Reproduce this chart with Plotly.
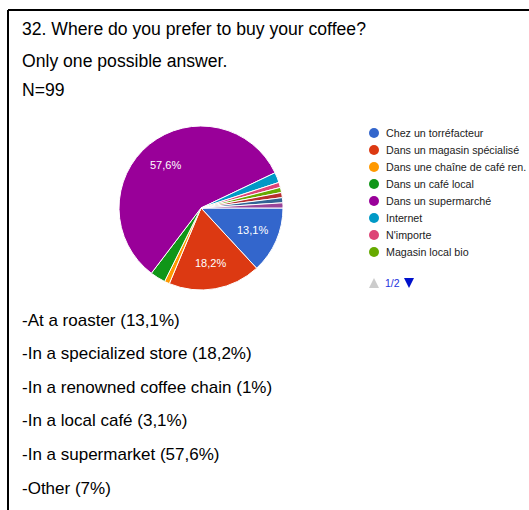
import math
import plotly.graph_objects as go

# Survey question 32: preferred place to buy coffee (N=99 respondents)
labels = [
    "Chez un torréfacteur",
    "Dans un magasin spécialisé",
    "Dans une chaîne de café ren.",
    "Dans un café local",
    "Dans un supermarché",
    "Internet",
    "N'importe",
    "Magasin local bio",
    "Autre 1",
    "Autre 2",
    "Autre 3",
]
counts = [13, 18, 1, 3, 57, 2, 1, 1, 1, 1, 1]
colors = [
    "#3366cc", "#dc3912", "#ff9900", "#109618", "#990099", "#0099c6",
    "#dd4477", "#66aa00", "#b82e2e", "#316395", "#994499",
]
legend_visible = 8  # first page of the legend

question = "32. Where do you prefer to buy your coffee?"
subtitle = "Only one possible answer."
sample = "N=99"
summary_lines = [
    "-At a roaster (13,1%)",
    "-In a specialized store (18,2%)",
    "-In a renowned coffee chain (1%)",
    "-In a local café (3,1%)",
    "-In a supermarket (57,6%)",
    "-Other (7%)",
]

W, H = 529, 510


def px(x):
    return x / W


def py(y):
    return 1 - y / H


# pie geometry in pixels
cx, cy, radius = 201, 208, 82
label_r = 0.68 * radius

fig = go.Figure(
    go.Pie(
        labels=labels,
        values=counts,
        sort=False,
        direction="clockwise",
        rotation=90,
        marker=dict(colors=colors, line=dict(color="white", width=1)),
        textinfo="none",
        domain=dict(x=[px(cx - radius), px(cx + radius)],
                    y=[py(cy + radius), py(cy - radius)]),
        showlegend=False,
        hoverinfo="label+percent",
    )
)

annotations = []
shapes = []

# percentage labels on the large slices, placed along each slice's mid-angle
total = sum(counts)
start = 0.0
for c in counts:
    share = c / total
    if share >= 0.1:
        mid = (start + share / 2) * 2 * math.pi  # clockwise from 3 o'clock
        lx = cx + label_r * math.cos(mid)
        ly = cy + label_r * math.sin(mid)
        pct = f"{share * 100:.1f}".replace(".", ",") + "%"
        annotations.append(dict(text=pct, x=px(lx), y=py(ly), xref="paper", yref="paper",
                                xanchor="center", yanchor="middle", showarrow=False,
                                font=dict(family="Arial, Liberation Sans", size=11,
                                          color="white")))
    start += share

# frame lines (top and left)
shapes.append(dict(type="line", xref="paper", yref="paper",
                   x0=px(8), x1=1, y0=py(10), y1=py(10),
                   line=dict(color="black", width=2)))
shapes.append(dict(type="line", xref="paper", yref="paper",
                   x0=px(8), x1=px(8), y0=py(10), y1=0,
                   line=dict(color="black", width=2)))

header_font = dict(family="Arial, Liberation Sans", size=17.6, color="#000000")
body_font = dict(family="Arial, Liberation Sans", size=17, color="#000000")

header_rows = [(question, 29), (subtitle, 61), (sample, 90)]
for txt, yc in header_rows:
    annotations.append(dict(text=txt, x=px(20), y=py(yc), xref="paper", yref="paper",
                            xanchor="left", yanchor="middle", showarrow=False,
                            font=header_font))

for i, txt in enumerate(summary_lines):
    yc = 320 + i * 33.6
    annotations.append(dict(text=txt, x=px(20), y=py(yc), xref="paper", yref="paper",
                            xanchor="left", yanchor="middle", showarrow=False,
                            font=body_font))

# legend, first page
legend_font = dict(family="Arial, Liberation Sans", size=10.7, color="#222222")
for i in range(legend_visible):
    yc = 133 + i * 17
    shapes.append(dict(type="circle", xref="paper", yref="paper",
                       x0=px(369), x1=px(379), y0=py(yc + 5), y1=py(yc - 5),
                       fillcolor=colors[i], line=dict(width=0)))
    annotations.append(dict(text=labels[i], x=px(384), y=py(yc), xref="paper",
                            yref="paper", xanchor="left", yanchor="middle",
                            showarrow=False, font=legend_font))

# legend paging control
pg_y = 283
shapes.append(dict(type="path", xref="paper", yref="paper",
                   path=f"M {px(369)} {py(pg_y + 5)} L {px(379)} {py(pg_y + 5)} "
                        f"L {px(374)} {py(pg_y - 5)} Z",
                   fillcolor="#cccccc", line=dict(width=0)))
shapes.append(dict(type="path", xref="paper", yref="paper",
                   path=f"M {px(404)} {py(pg_y - 5)} L {px(414)} {py(pg_y - 5)} "
                        f"L {px(409)} {py(pg_y + 5)} Z",
                   fillcolor="#0011cc", line=dict(width=0)))
annotations.append(dict(text="1/2", x=px(392), y=py(pg_y), xref="paper", yref="paper",
                        xanchor="center", yanchor="middle", showarrow=False,
                        font=dict(family="Arial, Liberation Sans", size=10.5,
                                  color="#2233dd")))

fig.update_layout(
    width=W,
    height=H,
    margin=dict(l=0, r=0, t=0, b=0),
    paper_bgcolor="white",
    plot_bgcolor="white",
    annotations=annotations,
    shapes=shapes,
)

fig.write_html("out.html")
